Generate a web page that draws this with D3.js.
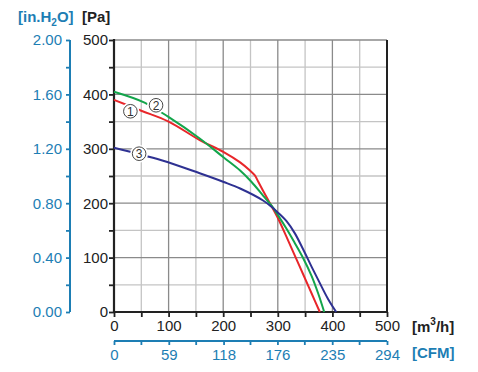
<!DOCTYPE html>
<html>
<head>
<meta charset="utf-8">
<script src="https://cdn.jsdelivr.net/npm/d3@7"></script>
<style>
  body { margin: 0; background: #fff; }
  svg { font-family: "Liberation Sans", Arial, sans-serif; }
</style>
</head>
<body>
<div id="plot"></div>
<script>
// Curve data: [flow m3/h, pressure Pa]
const curve1 = [[0,390],[50,370],[100,350],[157,316],[201,294],[231,275],[249,260],[258,251],[264,240],[273,223],[286,199],[299,175],[316,138],[331,104],[347,68],[362,34],[377,0]];
const curve2 = [[0,405],[56,385],[99,359],[157,319],[201,284],[231,260],[252,239],[273,214],[289,195],[299,180],[316,153],[331,127],[347,98],[362,66],[374,34],[385,0]];
const curve3 = [[0,302],[87,279],[157,255],[201,239],[231,227],[273,205],[289,193],[299,184],[316,167],[331,145],[347,114],[362,83],[377,53],[392,24],[407,0]];
const seriesColors = ["#e8262a", "#13a54b", "#2e3192"];
const seriesNames = ["1", "2", "3"];
// where the circled numbers sit (flow, pressure)
const labelPos = [[30, 369], [77, 380], [46, 291]];

const flowTicks = [0, 100, 200, 300, 400, 500];
const paTicks = [0, 100, 200, 300, 400, 500];
const inchTicks = [0, 0.4, 0.8, 1.2, 1.6, 2.0];
const cfmTicks = [0, 59, 118, 176, 235, 294];

const W = 478, H = 372;
const pL = 114, pR = 387, pT = 40, pB = 312;
const blue = "#1d7eb4";

const svg = d3.select("#plot").append("svg")
  .attr("width", W).attr("height", H);

const x = d3.scaleLinear().domain([0, 500]).range([pL, pR]);
const y = d3.scaleLinear().domain([0, 500]).range([pB, pT]);
const yIn = d3.scaleLinear().domain([0, 2]).range([pB, pT]);
const xCfm = d3.scaleLinear().domain([0, 294]).range([pL, pR]);

// grid
const minor = d3.range(50, 500, 100);
const major = d3.range(100, 501, 100);
svg.append("g").selectAll("line").data(minor).join("line")
  .attr("x1", d => x(d)).attr("x2", d => x(d)).attr("y1", pT).attr("y2", pB)
  .attr("stroke", "#c4c4c4").attr("stroke-width", 1.3);
svg.append("g").selectAll("line").data(minor).join("line")
  .attr("y1", d => y(d)).attr("y2", d => y(d)).attr("x1", pL).attr("x2", pR)
  .attr("stroke", "#c4c4c4").attr("stroke-width", 1.3);
svg.append("g").selectAll("line").data(major).join("line")
  .attr("x1", d => x(d)).attr("x2", d => x(d)).attr("y1", pT).attr("y2", pB)
  .attr("stroke", "#8a8a8a").attr("stroke-width", 1.3);
svg.append("g").selectAll("line").data(major).join("line")
  .attr("y1", d => y(d)).attr("y2", d => y(d)).attr("x1", pL).attr("x2", pR)
  .attr("stroke", "#8a8a8a").attr("stroke-width", 1.3);

// right frame
svg.append("line").attr("x1", pR).attr("x2", pR).attr("y1", pT).attr("y2", pB)
  .attr("stroke", "#222").attr("stroke-width", 2);

// Pa axis
const gy = svg.append("g").attr("transform", `translate(${pL},0)`)
  .call(d3.axisLeft(y).tickValues(d3.range(0, 501, 50)).tickSize(5)
    .tickFormat(d => paTicks.includes(d) ? d : ""));
// flow axis
const gx = svg.append("g").attr("transform", `translate(0,${pB})`)
  .call(d3.axisBottom(x).tickValues(d3.range(0, 501, 50)).tickSize(5)
    .tickFormat(d => flowTicks.includes(d) ? d : ""));
[gy, gx].forEach(g => {
  g.select(".domain").attr("stroke", "#222").attr("stroke-width", 2.2);
  g.selectAll(".tick line").attr("stroke", "#222").attr("stroke-width", 1.8);
  g.selectAll("text").attr("font-size", 15).attr("fill", "#222")
    .attr("font-family", "Liberation Sans, Arial, sans-serif");
});
gy.selectAll("text").attr("x", -6);
gx.selectAll("text").attr("y", 8);
gy.select(".domain").attr("d", `M0,${pB}V${pT - 1}`);
gx.select(".domain").attr("d", `M${pL - 1},0H${pR + 1}`);

// inch axis
const inchX = 70;
const gi = svg.append("g").attr("transform", `translate(${inchX},0)`)
  .call(d3.axisLeft(yIn).tickValues(d3.range(0, 2.01, 0.2)).tickSize(4)
    .tickFormat(d => inchTicks.some(t => Math.abs(t - d) < 1e-6) ? d.toFixed(2) : ""));
gi.select(".domain").attr("d", `M0,${pB}V${pT}`).attr("stroke", blue).attr("stroke-width", 2);
gi.selectAll(".tick line").attr("stroke", blue).attr("stroke-width", 1.8);
gi.selectAll("text").attr("font-size", 15).attr("fill", blue).attr("x", -8)
  .attr("font-family", "Liberation Sans, Arial, sans-serif");

// CFM axis
const cfmY = 341;
const cfmMinor = d3.pairs(cfmTicks).map(p => (p[0] + p[1]) / 2);
const gc = svg.append("g").attr("transform", `translate(0,${cfmY})`)
  .call(d3.axisBottom(xCfm).tickValues(cfmTicks).tickSize(4));
gc.select(".domain").attr("d", `M${pL},0H${pR}`).attr("stroke", blue).attr("stroke-width", 2);
gc.selectAll(".tick line").attr("stroke", blue).attr("stroke-width", 1.8);
gc.selectAll("text").attr("font-size", 15).attr("fill", blue).attr("y", 8)
  .attr("font-family", "Liberation Sans, Arial, sans-serif");
gc.selectAll(".minor").data(cfmMinor).join("line").attr("class", "minor")
  .attr("x1", d => xCfm(d)).attr("x2", d => xCfm(d)).attr("y1", 0).attr("y2", 4)
  .attr("stroke", blue).attr("stroke-width", 1.8);

// curves
const line = d3.line().x(d => x(d[0])).y(d => y(d[1])).curve(d3.curveCatmullRom.alpha(0.5));
[curve1, curve2, curve3].forEach((c, i) => {
  svg.append("path").datum(c).attr("d", line)
    .attr("fill", "none").attr("stroke", seriesColors[i]).attr("stroke-width", 2);
});

// circled labels (white halo breaks the line around them)
const lab = svg.append("g").selectAll("g").data(labelPos).join("g")
  .attr("transform", d => `translate(${x(d[0])},${y(d[1])})`);
lab.append("circle").attr("r", 9).attr("fill", "#fff");
lab.append("circle").attr("r", 6.8).attr("fill", "#fff").attr("stroke", "#333").attr("stroke-width", 0.9);
lab.append("text").text((d, i) => seriesNames[i])
  .attr("text-anchor", "middle").attr("dy", "0.36em").attr("font-size", 12).attr("fill", "#333");

// unit labels
const hdr = svg.append("text").attr("x", 18).attr("y", 22)
  .attr("font-size", 15).attr("font-weight", "bold").attr("fill", blue);
hdr.append("tspan").text("[in.H");
hdr.append("tspan").text("2").attr("font-size", 10).attr("dy", 4);
hdr.append("tspan").text("O]").attr("dy", -4);
svg.append("text").attr("x", 82).attr("y", 22).text("[Pa]")
  .attr("font-size", 15).attr("font-weight", "bold").attr("fill", "#222");

const m3 = svg.append("text").attr("x", 412).attr("y", 332)
  .attr("font-size", 15).attr("font-weight", "bold").attr("fill", "#222");
m3.append("tspan").text("[m");
m3.append("tspan").text("3").attr("font-size", 10).attr("dy", -7);
m3.append("tspan").text("/h]").attr("dy", 7);
svg.append("text").attr("x", 412).attr("y", 358).text("[CFM]")
  .attr("font-size", 15).attr("font-weight", "bold").attr("fill", blue);
</script>
</body>
</html>
